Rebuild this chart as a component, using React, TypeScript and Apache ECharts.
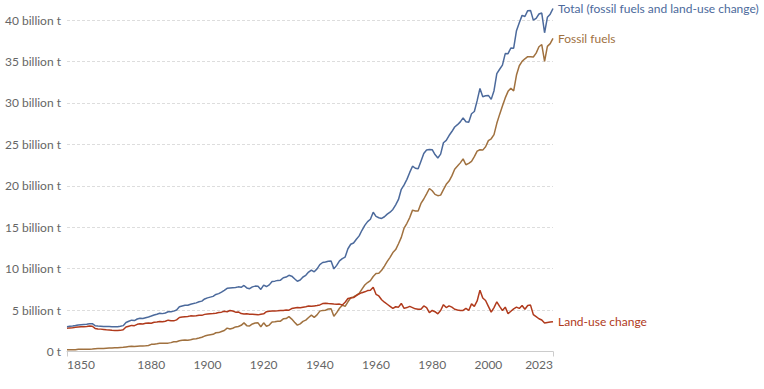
import React, { useEffect, useRef } from "react";
import * as echarts from "echarts";

const startYear = 1850;
const endYear = 2023;

// Annual CO2 emissions from fossil fuels (billion t)
const fossilFuels = [
  0.20, 0.20, 0.21, 0.22, 0.26, 0.26, 0.27, 0.28, 0.28, 0.30,
  0.33, 0.35, 0.35, 0.37, 0.39, 0.41, 0.42, 0.45, 0.46, 0.49,
  0.50, 0.55, 0.60, 0.63, 0.61, 0.64, 0.66, 0.67, 0.68, 0.72,
  0.86, 0.88, 0.93, 0.99, 0.99, 1.00, 1.01, 1.07, 1.17, 1.18,
  1.29, 1.35, 1.38, 1.36, 1.41, 1.50, 1.55, 1.63, 1.72, 1.86,
  1.95, 2.01, 2.07, 2.26, 2.28, 2.41, 2.53, 2.82, 2.71, 2.81,
  2.97, 3.02, 3.16, 3.45, 3.12, 3.08, 3.32, 3.44, 3.46, 2.99,
  3.46, 3.04, 3.19, 3.57, 3.59, 3.66, 3.66, 3.94, 3.98, 4.21,
  3.91, 3.53, 3.18, 3.34, 3.64, 3.79, 4.10, 4.38, 4.12, 4.42,
  4.87, 4.96, 4.98, 5.12, 5.17, 4.25, 4.69, 5.22, 5.59, 5.44,
  6.00, 6.49, 6.59, 6.79, 7.00, 7.53, 8.02, 8.32, 8.56, 9.05,
  9.40, 9.44, 9.80, 10.31, 10.87, 11.36, 11.94, 12.30, 13.00, 13.77,
  14.90, 15.47, 16.16, 17.06, 16.96, 16.94, 17.87, 18.40, 19.02, 19.67,
  19.40, 18.96, 18.80, 18.87, 19.54, 20.17, 20.56, 21.19, 21.99, 22.37,
  22.76, 23.24, 22.53, 22.70, 22.94, 23.51, 24.17, 24.34, 24.30, 24.70,
  25.45, 25.67, 26.17, 27.53, 28.61, 29.61, 30.60, 31.39, 31.77, 31.45,
  33.36, 34.48, 35.01, 35.32, 35.58, 35.56, 35.53, 36.00, 36.77, 37.04,
  35.01, 36.82, 37.15, 37.79,
];

// Annual CO2 emissions from land-use change (billion t)
const landUseChange = [
  2.80, 2.85, 2.88, 2.92, 2.95, 2.98, 3.00, 3.02, 3.08, 3.05,
  2.78, 2.72, 2.70, 2.66, 2.62, 2.60, 2.56, 2.54, 2.52, 2.55,
  2.62, 2.95, 3.05, 3.15, 3.12, 3.28, 3.35, 3.32, 3.40, 3.45,
  3.42, 3.52, 3.56, 3.62, 3.58, 3.65, 3.78, 3.72, 3.70, 3.82,
  4.10, 4.15, 4.20, 4.22, 4.30, 4.28, 4.32, 4.38, 4.36, 4.48,
  4.52, 4.55, 4.58, 4.62, 4.70, 4.75, 4.85, 4.80, 4.95, 4.88,
  4.75, 4.78, 4.58, 4.52, 4.55, 4.50, 4.48, 4.45, 4.42, 4.50,
  4.55, 4.80, 4.85, 4.88, 4.90, 4.92, 4.95, 4.96, 5.00, 4.98,
  5.18, 5.25, 5.30, 5.28, 5.35, 5.40, 5.48, 5.45, 5.50, 5.55,
  5.62, 5.78, 5.82, 5.78, 5.75, 5.72, 5.70, 5.72, 5.62, 5.95,
  6.40, 6.45, 6.50, 6.75, 6.95, 7.10, 7.20, 7.35, 7.40, 7.75,
  6.90, 6.70, 6.25, 5.95, 5.70, 5.45, 5.20, 5.40, 5.35, 5.80,
  5.20, 5.30, 5.45, 5.30, 5.15, 5.10, 5.10, 5.50, 5.30, 4.70,
  4.95, 4.80, 4.55, 4.95, 5.65, 5.30, 5.50, 5.35, 5.10, 5.00,
  4.95, 4.95, 5.20, 4.95, 5.75, 5.45, 6.10, 7.40, 6.45, 6.15,
  5.45, 4.75, 5.30, 6.00, 5.45, 4.95, 5.35, 4.55, 4.85, 5.15,
  5.35, 5.20, 5.55, 5.10, 5.55, 5.60, 4.45, 4.20, 3.95, 3.80,
  3.45, 3.50, 3.55, 3.60,
];

// Total: fossil fuels and land-use change (billion t)
const totalEmissions = [
  3.00, 3.05, 3.09, 3.14, 3.21, 3.24, 3.27, 3.30, 3.36, 3.35,
  3.11, 3.07, 3.05, 3.03, 3.01, 3.01, 2.98, 2.99, 2.98, 3.04,
  3.12, 3.50, 3.65, 3.78, 3.73, 3.92, 4.01, 3.99, 4.08, 4.17,
  4.28, 4.40, 4.49, 4.61, 4.57, 4.65, 4.79, 4.79, 4.87, 5.00,
  5.39, 5.50, 5.58, 5.58, 5.71, 5.78, 5.87, 6.01, 6.08, 6.34,
  6.47, 6.56, 6.65, 6.88, 6.98, 7.16, 7.38, 7.62, 7.66, 7.69,
  7.72, 7.80, 7.74, 7.97, 7.67, 7.58, 7.80, 7.89, 7.88, 7.49,
  8.01, 7.84, 8.04, 8.45, 8.49, 8.58, 8.61, 8.90, 8.98, 9.19,
  9.09, 8.78, 8.48, 8.62, 8.99, 9.19, 9.58, 9.83, 9.62, 9.97,
  10.49, 10.74, 10.80, 10.90, 10.92, 9.97, 10.39, 10.94, 11.21, 11.39,
  12.40, 12.94, 13.09, 13.54, 13.95, 14.63, 15.22, 15.67, 15.96, 16.80,
  16.30, 16.14, 16.05, 16.26, 16.57, 16.81, 17.14, 17.70, 18.35, 19.57,
  20.10, 20.77, 21.61, 22.36, 22.11, 22.04, 22.97, 23.90, 24.32, 24.37,
  24.35, 23.76, 23.35, 23.82, 25.19, 25.47, 26.06, 26.54, 27.09, 27.37,
  27.71, 28.19, 27.73, 27.65, 28.69, 28.96, 30.27, 31.74, 30.75, 30.85,
  30.90, 30.42, 31.47, 33.53, 34.06, 34.56, 35.95, 35.94, 36.62, 36.60,
  38.71, 39.68, 40.56, 40.42, 41.13, 41.16, 39.98, 40.20, 40.72, 40.84,
  38.46, 40.32, 40.70, 41.39,
];

const xTickLabels = [1850, 1880, 1900, 1920, 1940, 1960, 1980, 2000, 2023];
const xTickMarks = [1850, 2023];
const yTicks = [0, 5, 10, 15, 20, 25, 30, 35, 40];

const seriesNames = {
  total: "Total (fossil fuels and land-use change)",
  fossil: "Fossil fuels",
  luc: "Land-use change",
};

const colors = {
  total: "#4C6A9C",
  fossil: "#A0713F",
  luc: "#B03A1C",
};

function toPairs(values: number[]) {
  return values.map((v, i) => [startYear + i, v]);
}

export default function App() {
  const ref = useRef<HTMLDivElement>(null);

  useEffect(() => {
    if (!ref.current) return;
    const chart = echarts.init(ref.current, undefined, { renderer: "svg" });

    const mkSeries = (name: string, color: string, values: number[]) => ({
      name,
      type: "line",
      data: toPairs(values),
      showSymbol: false,
      symbol: "none",
      clip: false,
      lineStyle: { color, width: 1.5 },
      itemStyle: { color },
      endLabel: {
        show: true,
        formatter: "{a}",
        color,
        fontSize: 12,
        fontFamily: "Lato",
        distance: 5,
      },
      emphasis: { disabled: true },
    });

    chart.setOption({
      animation: false,
      textStyle: { fontFamily: "Lato" },
      grid: { left: 67, right: 211, top: 20, bottom: 37.5, containLabel: false },
      xAxis: {
        type: "value",
        min: startYear,
        max: endYear,
        axisLine: { show: true, lineStyle: { color: "#cccccc", width: 1 } },
        axisTick: {
          show: true,
          customValues: xTickMarks,
          length: 5,
          lineStyle: { color: "#cccccc" },
        },
        axisLabel: {
          customValues: xTickLabels,
          color: "#666666",
          fontSize: 12,
          margin: 7,
          fontFamily: "Lato",
          alignMinLabel: "left",
          alignMaxLabel: "right",
          formatter: (v: number) => String(v),
        },
        splitLine: { show: false },
      },
      yAxis: {
        type: "value",
        min: 0,
        max: 40,
        interval: 5,
        axisLine: { show: false },
        axisTick: { show: false },
        axisLabel: {
          customValues: yTicks,
          color: "#666666",
          fontSize: 12,
          margin: 6,
          fontFamily: "Lato",
          formatter: (v: number) => (v === 0 ? "0 t" : `${v} billion t`),
        },
        splitLine: {
          show: true,
          lineStyle: { color: "#dddddd", type: [3, 2], width: 1 },
        },
      },
      series: [
        mkSeries(seriesNames.fossil, colors.fossil, fossilFuels),
        mkSeries(seriesNames.luc, colors.luc, landUseChange),
        mkSeries(seriesNames.total, colors.total, totalEmissions),
      ],
    });

    return () => chart.dispose();
  }, []);

  return (
    <div
      ref={ref}
      style={{ position: "fixed", left: 0, top: 0, width: 764, height: 389, background: "#ffffff" }}
    />
  );
}
